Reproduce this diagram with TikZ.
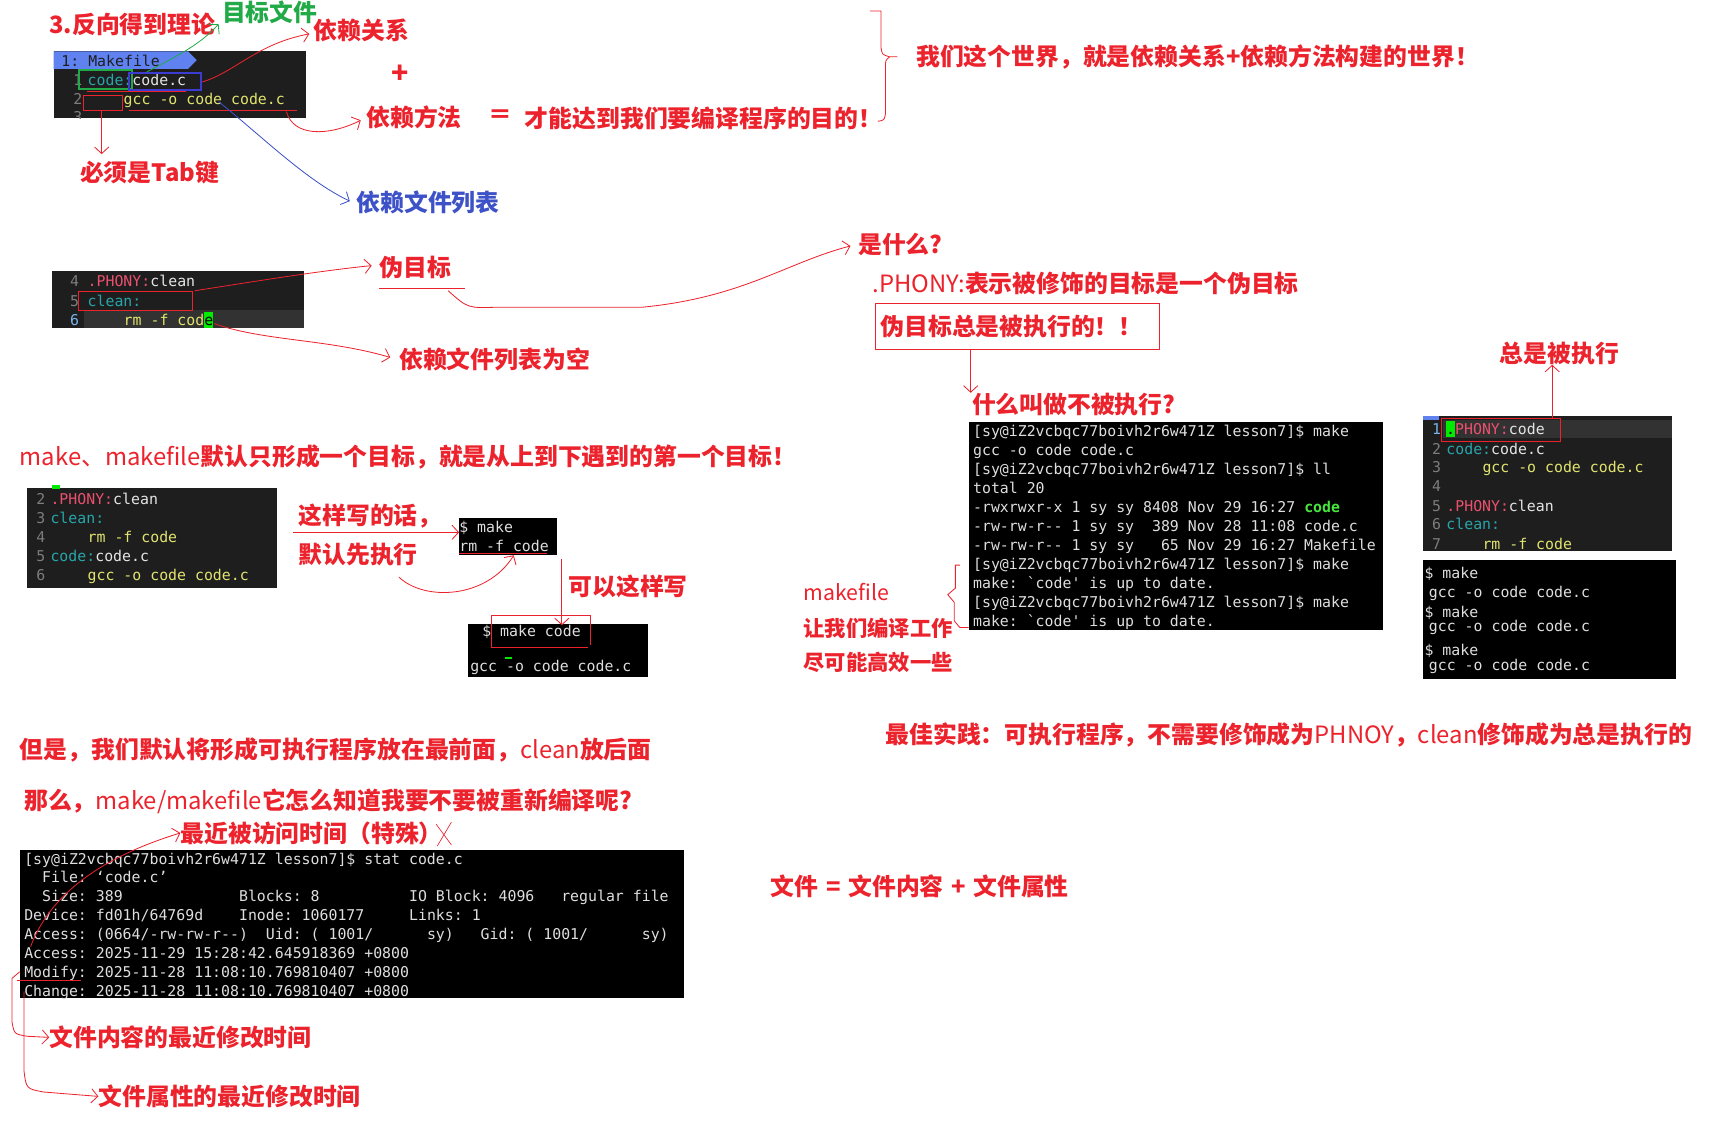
\documentclass[tikz,border=0pt]{standalone}
\usepackage{fontspec}
\setmonofont{DejaVu Sans Mono}
\newfontfamily\cjk{Noto Sans CJK SC}
\usetikzlibrary{arrows.meta}
\definecolor{ared}{RGB}{236,34,44}
\definecolor{agreen}{RGB}{34,170,72}
\definecolor{ablue}{RGB}{62,82,200}
\definecolor{boxblue}{RGB}{60,60,210}
\definecolor{edbg}{RGB}{30,30,30}
\definecolor{edhl}{RGB}{50,50,50}
\definecolor{lnum}{RGB}{125,125,125}
\definecolor{lnact}{RGB}{120,180,235}
\definecolor{ecyan}{RGB}{40,165,170}
\definecolor{eyel}{RGB}{225,228,110}
\definecolor{epink}{RGB}{235,80,110}
\definecolor{ewhite}{RGB}{228,228,228}
\definecolor{hdrblue}{RGB}{95,130,240}
\definecolor{curs}{RGB}{0,235,0}
\definecolor{tgreen}{RGB}{70,230,60}
\definecolor{tgray}{RGB}{222,222,222}
\begin{document}
\begin{tikzpicture}[x=1pt,y=-1pt,
  lbl/.style={font=\cjk\bfseries\fontsize{21.8}{24}\selectfont, text=ared, inner sep=0pt, anchor=west},
  mc/.style={font=\ttfamily\fontsize{13.6}{16}\selectfont, inner sep=0pt, anchor=west, text height=13.5pt, text depth=2.5pt},
  tm/.style={mc, text=tgray},
  panel/.style={fill=edbg, inner sep=0pt, outer sep=0pt, anchor=north west},
  termbox/.style={fill=black, inner sep=0pt, outer sep=0pt, anchor=north west},
  hand/.style={draw=ared, line width=0.75pt, -{Straight Barb[length=6pt,width=13pt]}},
  redline/.style={draw=ared, line width=0.75pt},
  redbox/.style={draw=ared, line width=1pt},
]
\fill[white] (0,0) rectangle (1568,1043);
\useasboundingbox (0,0) rectangle (1568,1043);

%% ---------------- top: Makefile panel 1 ----------------
\node[panel, minimum width=231pt, minimum height=61pt] (p1) at (49,47) {};
\fill[hdrblue] (49,47) -- (172,47) -- (180,55) -- (172,63) -- (49,63) -- cycle;
\node[mc, text=edbg] (p1h) at (56,55) {1:~Makefile};
\node[mc, text=lnum] (p1n1) at (67,73) {1};
\node[mc, text=ecyan] (p1a) at (80,73) {code:};
\node[mc, text=ewhite] (p1b) at (121,73) {code.c};
\node[mc, text=lnum] (p1n2) at (67,90) {2};
\node[mc, text=eyel] (p1c) at (113,90) {gcc~-o~code~code.c};
\begin{scope}
\clip (49,47) rectangle (280,108);
\node[mc, text=lnum] (p1n3) at (67,107) {3};
\end{scope}
\draw[agreen, line width=1.8pt] (72,64) rectangle (121,81);
\draw[boxblue, line width=1.8pt] (118,67) rectangle (184,82);
\draw[redline] (80,84) -- (170,84);
\draw[redbox] (76,87) rectangle (112,101);
\draw[redline] (118,101) -- (272,101);

\node[lbl] (thm) at (45,22) {3.反向得到理论};
\node[lbl, text=agreen] (tgt) at (203,11) {目标文件};
\node[lbl] (dep) at (287,28) {依赖关系};
\node[lbl, anchor=center, font=\cjk\bfseries\fontsize{26}{28}\selectfont] (plus) at (366,68) {+};
\node[lbl] (meth) at (335,107) {依赖方法};
\node[lbl, anchor=center] (eq) at (458,107) {＝};
\node[lbl] (goal) at (480,108) {才能达到我们要编译程序的目的！};
\node[lbl] (world) at (838,52) {我们这个世界，就是依赖关系+依赖方法构建的世界！};
\node[lbl] (tab) at (73,158) {必须是Tab键};
\node[lbl, text=ablue] (dlist) at (326,185) {依赖文件列表};

\coordinate (gA) at (134,66);
\coordinate (gB) at (200,22);
\draw[agreen, line width=0.75pt, -{Straight Barb[length=6pt,width=13pt]}] (gA) .. controls (160,52) and (182,42) .. (gB);
\coordinate (rA) at (185,75);
\coordinate (rB) at (283,31);
\draw[hand] (rA) .. controls (215,66) and (235,40) .. (rB);
\coordinate (mA) at (262,102);
\coordinate (mB) at (330,110);
\draw[hand] (mA) .. controls (268,125) and (300,125) .. (mB);
\coordinate (tA) at (93,101);
\coordinate (tB) at (93,141);
\draw[hand] (tA) -- (tB);
\coordinate (bA) at (200,93);
\coordinate (bB) at (320,184);
\draw[ablue, line width=0.75pt, -{Straight Barb[length=6pt,width=13pt]}] (bA) .. controls (240,125) and (280,165) .. (bB);
% brace
\draw[redline] (796,10) -- (806,10) -- (806,44) .. controls (807,50) .. (814,52) -- (821,52)
  (814,52) .. controls (810,55) .. (810,62) -- (810,104) .. controls (809,110) .. (803,111);

%% ---------------- panel 2 ----------------
\node[panel, minimum width=230pt, minimum height=52pt] (p2) at (48,248) {};
\fill[edhl] (77,284) rectangle (278,300);
\node[mc, text=lnum] (p2n4) at (64,257) {4};
\node[mc, text=epink] (p2a) at (80,257) {.PHONY:};
\node[mc, text=ewhite] (p2b) at (137.4,257) {clean};
\node[mc, text=lnum] (p2n5) at (64,275) {5};
\node[mc, text=ecyan] (p2c) at (80,275) {clean:};
\node[mc, text=lnact] (p2n6) at (64,292) {6};
\node[mc, text=eyel] (p2d) at (113,292) {rm~-f~cod};
\fill[curs] (186.8,285) rectangle (195,300);
\node[mc, text=black] (p2e) at (186.8,292) {e};
\draw[redbox] (72,267) rectangle (176,284);

\node[lbl] (fake) at (347,245) {伪目标};
\draw[redline] (347,264) -- (425,264);
\node[lbl] (empty) at (365,329) {依赖文件列表为空};
\node[lbl] (what) at (785,224) {是什么?};
\node[lbl] (phony) at (798,259) {\mdseries .PHONY:\bfseries 表示被修饰的目标是一个伪目标};
\node[lbl, draw=ared, line width=1pt, inner sep=0pt, anchor=north west, minimum width=260pt, minimum height=42pt, text width=250pt, align=left] (always) at (800,277) {伪目标总是被执行的！！};
\node[lbl] (notexec) at (889,370) {什么叫做不被执行?};

\coordinate (fA) at (178,266);
\coordinate (fB) at (340,243);
\draw[hand] (fA) .. controls (230,258) and (290,248) .. (fB);
\coordinate (wA) at (410,266);
\coordinate (wB) at (778,225);
\draw[hand] (wA) .. controls (428,282) .. (455,281) -- (588,281) .. controls (680,272) and (720,240) .. (wB);
\coordinate (eA) at (196,296);
\coordinate (eB) at (357,327);
\draw[hand] (eA) .. controls (240,312) and (300,310) .. (eB);
\draw[hand] (always.south -| 888,0) -- (notexec.north -| 888,0);

%% ---------------- terminal 2 ----------------
\node[termbox, minimum width=379pt, minimum height=190pt] (t2) at (886,386) {};
\node[tm] (t2l1) at (890,394) {[sy@iZ2vcbqc77boivh2r6w471Z~lesson7]\$~make};
\node[tm] (t2l2) at (890,411.4) {gcc~-o~code~code.c};
\node[tm] (t2l3) at (890,428.8) {[sy@iZ2vcbqc77boivh2r6w471Z~lesson7]\$~ll};
\node[tm] (t2l4) at (890,446.2) {total~20};
\node[tm] (t2l5) at (890,463.6) {-rwxrwxr-x~1~sy~sy~8408~Nov~29~16:27~\textcolor{tgreen}{\bfseries code}};
\node[tm] (t2l6) at (890,481) {-rw-rw-r--~1~sy~sy~~389~Nov~28~11:08~code.c};
\node[tm] (t2l7) at (890,498.4) {-rw-rw-r--~1~sy~sy~~~65~Nov~29~16:27~Makefile};
\node[tm] (t2l8) at (890,515.8) {[sy@iZ2vcbqc77boivh2r6w471Z~lesson7]\$~make};
\node[tm] (t2l9) at (890,533.2) {make:~`code'~is~up~to~date.};
\node[tm] (t2l10) at (890,550.6) {[sy@iZ2vcbqc77boivh2r6w471Z~lesson7]\$~make};
\node[tm] (t2l11) at (890,568) {make:~`code'~is~up~to~date.};
\draw[redline] (878,517) -- (874,517) -- (874,538) -- (867,544) -- (873,551) -- (873,568) -- (878,574) -- (t2.south west |- 0,574);

\node[lbl, font=\cjk\fontsize{19.5}{22}\selectfont] (mk) at (735,542) {makefile};
\node[lbl, font=\cjk\bfseries\fontsize{19.5}{22}\selectfont] (mk2) at (735,575) {让我们编译工作};
\node[lbl, font=\cjk\bfseries\fontsize{19.5}{22}\selectfont] (mk3) at (735,606) {尽可能高效一些};

%% ---------------- panel 3 (right) ----------------
\node[panel, minimum width=228pt, minimum height=123pt] (p3) at (1302,381) {};
\fill[hdrblue] (1302,381) rectangle (1316,384);
\fill[edhl] (1320,384) rectangle (1530,401);
\node[mc, text=lnact] (p3n1) at (1310,392) {1};
\fill[curs] (1322.8,385) rectangle (1331,400);
\node[mc, text=black] (p3dot) at (1322.8,392) {.};
\node[mc, text=epink] (p3a) at (1331,392) {PHONY:};
\node[mc, text=ewhite] (p3b) at (1380.2,392) {code};
\node[mc, text=lnum] (p3n2) at (1310,410) {2};
\node[mc, text=ecyan] (p3c) at (1323,410) {code:};
\node[mc, text=ewhite] (p3d) at (1364,410) {code.c};
\node[mc, text=lnum] (p3n3) at (1310,427) {3};
\node[mc, text=eyel] (p3e) at (1356,427) {gcc~-o~code~code.c};
\node[mc, text=lnum] (p3n4) at (1310,444) {4};
\node[mc, text=lnum] (p3n5) at (1310,462) {5};
\node[mc, text=epink] (p3f) at (1323,462) {.PHONY:};
\node[mc, text=ewhite] (p3g) at (1380.2,462) {clean};
\node[mc, text=lnum] (p3n6) at (1310,479) {6};
\node[mc, text=ecyan] (p3h) at (1323,479) {clean:};
\node[mc, text=lnum] (p3n7) at (1310,497) {7};
\node[mc, text=eyel] (p3i) at (1356,497) {rm~-f~code};
\node[draw=ared, line width=1.3pt, inner sep=0pt, anchor=north west, minimum width=109pt, minimum height=21pt] (p3box) at (1318,382) {};
\node[lbl] (alw) at (1372,323) {总是被执行};
\draw[hand] (p3box.north -| 1420,0) -- (alw.south -| 1420,0);

\node[termbox, minimum width=231pt, minimum height=109pt] (t3) at (1302,512) {};
\node[tm] (t3l1) at (1303,524) {\$~make};
\node[tm] (t3l2) at (1307,541) {gcc~-o~code~code.c};
\node[tm] (t3l3) at (1303,559) {\$~make};
\node[tm] (t3l4) at (1307,572) {gcc~-o~code~code.c};
\node[tm] (t3l5) at (1303,594) {\$~make};
\node[tm] (t3l6) at (1307,608) {gcc~-o~code~code.c};

%% ---------------- middle ----------------
\node[lbl] (dflt) at (18,418) {\mdseries make、makefile\bfseries 默认只形成一个目标，就是从上到下遇到的第一个目标！};
\node[panel, minimum width=228pt, minimum height=92pt] (p4) at (25,446) {};
\fill[curs] (48,444) rectangle (55,447);
\node[mc, text=lnum] (p4n2) at (33,456) {2};
\node[mc, text=epink] (p4a) at (46,456) {.PHONY:};
\node[mc, text=ewhite] (p4b) at (103.4,456) {clean};
\node[mc, text=lnum] (p4n3) at (33,473) {3};
\node[mc, text=ecyan] (p4c) at (46,473) {clean:};
\node[mc, text=lnum] (p4n4) at (33,491) {4};
\node[mc, text=eyel] (p4d) at (80,491) {rm~-f~code};
\node[mc, text=lnum] (p4n5) at (33,508) {5};
\node[mc, text=ecyan] (p4e) at (46,508) {code:};
\node[mc, text=ewhite] (p4f) at (87,508) {code.c};
\node[mc, text=lnum] (p4n6) at (33,526) {6};
\node[mc, text=eyel] (p4g) at (80,526) {gcc~-o~code~code.c};

\node[lbl] (sw1) at (273,472) {这样写的话，};
\node[lbl] (sw2) at (273,507) {默认先执行};
\node[termbox, minimum width=90pt, minimum height=34pt] (ts1) at (420,474) {};
\node[tm] (ts1a) at (420,482) {\$~make};
\node[tm] (ts1b) at (420,499) {rm~-f~code};
\draw[redline] (420,506) -- (500,506);
\coordinate (sA) at (268,487);
\draw[hand] (sA) -- (ts1.west |- sA);
\coordinate (cA) at (365,528);
\coordinate (cB) at (470,508);
\draw[hand] (cA) .. controls (388,550) and (445,548) .. (cB);

\node[termbox, minimum width=165pt, minimum height=48pt] (ts2) at (428,571) {};
\node[tm] (ts2a) at (441,577) {\$~make~code};
\node[tm] (ts2b) at (430,609) {gcc~-o~code~code.c};
\fill[curs] (462,601) rectangle (468,602.5);
\draw[redline] (540,590) -- (540,563) -- (450,563) -- (450,592) -- (538,592);
\node[lbl] (canw) at (520,536) {可以这样写};
\coordinate (vA) at (514,511);
\draw[hand] (vA) -- (514,572);

%% ---------------- bottom ----------------
\node[lbl] (but) at (810,672) {最佳实践：可执行程序，不需要修饰成为\mdseries PHNOY\bfseries ，\mdseries clean\bfseries 修饰成为总是执行的};
\node[lbl] (btm1) at (18,686) {但是，我们默认将形成可执行程序放在最前面，\mdseries clean\bfseries 放后面};
\node[lbl] (btm2) at (22,733) {那么，\mdseries make/makefile\bfseries 它怎么知道我要不要被重新编译呢?};
\node[lbl] (acc) at (165,762) {最近被访问时间（特殊）};
\draw[redline, line width=0.6pt] (399,754) -- (413,773) (413,752) -- (400,774);

\node[termbox, minimum width=608pt, minimum height=135pt] (stat) at (18,778) {};
\node[tm] (s1) at (22,785) {[sy@iZ2vcbqc77boivh2r6w471Z~lesson7]\$~stat~code.c};
\node[tm] (s2) at (22,802) {~~File:~‘code.c’};
\node[tm] (s3) at (22,819.5) {~~Size:~389~~~~~~~~~~~~~Blocks:~8~~~~~~~~~~IO~Block:~4096~~~regular~file};
\node[tm] (s4) at (22,837) {Device:~fd01h/64769d~~~~Inode:~1060177~~~~~Links:~1};
\node[tm] (s5) at (22,854) {Access:~(0664/-rw-rw-r--)~~Uid:~(~1001/~~~~~~sy)~~~Gid:~(~1001/~~~~~~sy)};
\node[tm] (s6) at (22,871.5) {Access:~2025-11-29~15:28:42.645918369~+0800};
\node[tm] (s7) at (22,889) {Modify:~2025-11-28~11:08:10.769810407~+0800};
\node[tm] (s8) at (22,906) {Change:~2025-11-28~11:08:10.769810407~+0800};

\node[lbl] (mod) at (45,949) {文件内容的最近修改时间};
\node[lbl] (chg) at (90,1003) {文件属性的最近修改时间};
\node[lbl] (feq) at (705,811) {文件\hspace{7pt}=\hspace{7pt}文件内容\hspace{7pt}+\hspace{7pt}文件属性};

\coordinate (aA) at (28,866);
\draw[hand] (aA) .. controls (45,820) and (90,785) .. (acc.west);
\draw[redline] (16,897) -- (74,897);
\coordinate (mdA) at (18,889);
\draw[hand] (mdA) -- (11,895) -- (11,935) .. controls (13,946) .. (25,948) -- (mod.west);
\coordinate (chA) at (22,907);
\draw[hand] (chA) -- (22,980) .. controls (24,996) .. (40,999) -- (chg.west);
\end{tikzpicture}
\end{document}
